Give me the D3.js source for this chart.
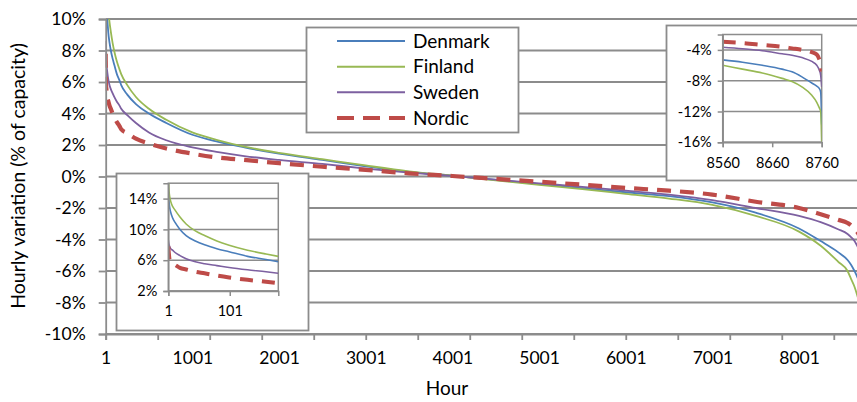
<!DOCTYPE html>
<html><head><meta charset="utf-8">
<script src="https://cdn.jsdelivr.net/npm/d3@7/dist/d3.min.js"></script>
<style>
html,body{margin:0;padding:0;background:#fff;}
svg{display:block;font-family:Lato, "Open Sans", sans-serif;}
</style></head>
<body>
<svg id="chart" width="857" height="402"></svg>
<script>
// ---------- DATA ----------
const hours   = [1,2,3,5,8,12,20,30,45,60,80,100,130,160,180,250,350,500,700,1000,1300,1600,2000,2500,3000,3500,4000,4500,5000,5500,6000,6500,7000,7500,8000,8250,8450,8560,8600,8640,8680,8700,8720,8740,8750,8755,8758,8759,8760];
const denmark = [14.9,13.8,13.0,12.2,11.5,10.9,10.0,9.2,8.5,8.0,7.5,7.1,6.5,6.1,5.8,5.2,4.6,4.0,3.4,2.65,2.2,1.85,1.45,1.05,0.65,0.3,0.05,-0.22,-0.48,-0.74,-1.0,-1.25,-1.65,-2.3,-3.3,-4.1,-4.8,-5.3,-5.6,-6.0,-6.5,-6.85,-7.5,-8.3,-8.7,-9.0,-9.5,-11.0,-13.7];
const finland = [17.0,15.2,14.4,13.6,13.0,12.5,11.6,10.7,9.8,9.2,8.5,7.95,7.3,6.8,6.5,5.8,5.05,4.3,3.6,2.8,2.3,1.9,1.5,1.1,0.7,0.33,0.05,-0.25,-0.53,-0.8,-1.1,-1.4,-1.8,-2.5,-3.5,-4.4,-5.4,-6.0,-6.5,-7.0,-7.7,-8.1,-8.8,-9.9,-10.8,-11.5,-12.0,-13.5,-15.9];
const sweden  = [8.6,8.1,7.8,7.5,7.3,7.0,6.6,6.2,5.8,5.55,5.3,5.05,4.75,4.5,4.3,3.9,3.4,2.8,2.3,1.85,1.55,1.3,1.05,0.8,0.5,0.25,0.04,-0.2,-0.43,-0.66,-0.9,-1.15,-1.5,-2.0,-2.5,-2.9,-3.35,-3.65,-3.85,-4.1,-4.5,-4.7,-5.0,-5.5,-6.0,-6.6,-7.3,-8.0,-8.8];
const nordic  = [7.8,6.8,6.1,5.8,5.6,5.4,5.0,4.8,4.5,4.3,4.0,3.75,3.45,3.2,3.0,2.75,2.4,2.1,1.78,1.45,1.2,1.05,0.85,0.62,0.42,0.2,0.03,-0.15,-0.33,-0.52,-0.72,-0.9,-1.15,-1.6,-2.0,-2.4,-2.75,-2.95,-3.1,-3.35,-3.6,-3.8,-4.0,-4.3,-4.6,-5.2,-5.8,-6.3,-6.8];

const seriesNames = ["Denmark","Finland","Sweden","Nordic"];
const seriesValues = [denmark, finland, sweden, nordic];

const yTicksMain = [-10,-8,-6,-4,-2,0,2,4,6,8,10];
const xLabelsMain = [1,1001,2001,3001,4001,5001,6001,7001,8001];
const xTickStep = 600;

const inset1XTicks = [8560,8660,8760];
const inset1YTicks = [-16,-12,-8,-4];
const inset2XTicks = [1,101];
const inset2YTicks = [2,6,10,14];

// ---------- STYLE ----------
const colors = {Denmark:"#4a7ebb", Finland:"#98b954", Sweden:"#7d60a0", Nordic:"#be4b48"};
const widths = {Denmark:1.8, Finland:1.8, Sweden:1.8, Nordic:4.2};
const dashes = {Denmark:null, Finland:null, Sweden:null, Nordic:"14,9"};
const gridColor = "#8c8c8c";

const series = seriesNames.map((n,i)=>({name:n, pts: hours.map((h,j)=>({h, v: seriesValues[i][j]}))}));

const svg = d3.select("#chart");

// ---------- MAIN CHART ----------
const x = d3.scaleLinear().domain([1,8760]).range([105.7, 864.9]);
const y = d3.scaleLinear().domain([-10,10]).range([334, 19]);

svg.append("defs").append("clipPath").attr("id","clipMain")
  .append("rect").attr("x",x(1)).attr("y",y(10)).attr("width",x(8760)-x(1)).attr("height",y(-10)-y(10));

// gridlines
svg.append("g").selectAll("line").data(yTicksMain).join("line")
  .attr("x1",x(1)).attr("x2",x(8760)).attr("y1",d=>y(d)).attr("y2",d=>y(d))
  .attr("stroke",gridColor).attr("stroke-width",1.8);

// lines
const lineMain = d3.line().x(d=>x(d.h)).y(d=>y(d.v)).curve(d3.curveMonotoneX);
const gl = svg.append("g").attr("clip-path","url(#clipMain)");
series.forEach(s=>{
  gl.append("path").attr("d",lineMain(s.pts)).attr("fill","none")
    .attr("stroke",colors[s.name]).attr("stroke-width",widths[s.name])
    .attr("stroke-dasharray",dashes[s.name]);
});

// y axis
const yAx = svg.append("g").attr("transform",`translate(${x(1)},0)`)
  .call(d3.axisLeft(y).tickValues(yTicksMain).tickSize(7).tickPadding(13).tickFormat(d=>d+"%"));
yAx.select(".domain").attr("stroke",gridColor).attr("stroke-width",1.8);
yAx.selectAll(".tick line").attr("stroke",gridColor).attr("stroke-width",1.8);
yAx.selectAll("text").attr("font-size",17.5).attr("fill","#000").attr("font-family","Lato");

// x axis
const xTickHours = d3.range(1, 8761, xTickStep);
const xAx = svg.append("g").attr("transform",`translate(0,${y(-10)})`)
  .call(d3.axisBottom(x).tickValues(xTickHours).tickSize(6).tickFormat(""));
xAx.select(".domain").attr("stroke",gridColor).attr("stroke-width",1.8);
xAx.selectAll(".tick line").attr("stroke",gridColor).attr("stroke-width",1.8);
const xLab = svg.append("g").attr("transform",`translate(0,${y(-10)})`)
  .call(d3.axisBottom(x).tickValues(xLabelsMain).tickSize(0).tickPadding(18).tickFormat(d=>String(d)));
xLab.select(".domain").remove();
xLab.selectAll("text").attr("font-size",17.5).attr("fill","#000").attr("font-family","Lato");

// axis titles
svg.append("text").attr("x",447).attr("y",395).attr("text-anchor","middle")
  .attr("font-size",19).attr("fill","#000").text("Hour");
svg.append("text").attr("transform","translate(25,176) rotate(-90)").attr("text-anchor","middle")
  .attr("font-size",19.5).attr("fill","#000").text("Hourly variation (% of capacity)");

// ---------- LEGEND ----------
const lg = svg.append("g");
lg.append("rect").attr("x",306.5).attr("y",27.5).attr("width",212).attr("height",105)
  .attr("fill","#fff").attr("stroke",gridColor).attr("stroke-width",1.8);
const legY = d3.scalePoint().domain(seriesNames).range([41,118]);
seriesNames.forEach(n=>{
  lg.append("line").attr("x1",337).attr("x2",405).attr("y1",legY(n)).attr("y2",legY(n))
    .attr("stroke",colors[n]).attr("stroke-width",n==="Nordic"?4.2:2)
    .attr("stroke-dasharray",n==="Nordic"?"17,9":null);
  lg.append("text").attr("x",413).attr("y",legY(n)).attr("dy","0.35em")
    .attr("font-size",19).attr("fill","#000").text(n);
});

// ---------- INSETS ----------
function drawInset(cfg){
  const g = svg.append("g");
  g.append("rect").attr("x",cfg.box[0]).attr("y",cfg.box[1]).attr("width",cfg.box[2]).attr("height",cfg.box[3])
    .attr("fill","#fff").attr("stroke",gridColor).attr("stroke-width",1.8);
  const xi = d3.scaleLinear().domain(cfg.xd).range(cfg.xr);
  const yi = d3.scaleLinear().domain(cfg.yd).range(cfg.yr);
  const id = "clip"+cfg.id;
  svg.select("defs").append("clipPath").attr("id",id).append("rect")
    .attr("x",cfg.xr[0]).attr("y",cfg.yr[1]).attr("width",cfg.xr[1]-cfg.xr[0]).attr("height",cfg.yr[0]-cfg.yr[1]);
  g.append("rect").attr("x",cfg.xr[0]).attr("y",cfg.yr[1]).attr("width",cfg.xr[1]-cfg.xr[0]).attr("height",cfg.yr[0]-cfg.yr[1])
    .attr("fill","none").attr("stroke",gridColor).attr("stroke-width",1.5);
  g.append("g").selectAll("line").data(cfg.yt).join("line")
    .attr("x1",cfg.xr[0]).attr("x2",cfg.xr[1]).attr("y1",d=>yi(d)).attr("y2",d=>yi(d))
    .attr("stroke",gridColor).attr("stroke-width",1.5);
  const li = d3.line().x(d=>xi(d.h)).y(d=>yi(d.v)).curve(d3.curveMonotoneX);
  const gc = g.append("g").attr("clip-path",`url(#${id})`);
  series.forEach(s=>{
    const pts = s.pts.filter(p=>p.h>=cfg.xd[0] && p.h<=cfg.xd[1]);
    gc.append("path").attr("d",li(pts)).attr("fill","none")
      .attr("stroke",colors[s.name]).attr("stroke-width",s.name==="Nordic"?4:1.6)
      .attr("stroke-dasharray",s.name==="Nordic"?"13,9":null);
  });
  const ya = g.append("g").attr("transform",`translate(${cfg.xr[0]},0)`)
    .call(d3.axisLeft(yi).tickValues(cfg.yt).tickSize(5).tickPadding(6).tickFormat(d=>d+"%"));
  ya.select(".domain").attr("stroke",gridColor).attr("stroke-width",1.5);
  ya.selectAll(".tick line").attr("stroke",gridColor).attr("stroke-width",1.5);
  ya.selectAll("text").attr("font-size",14.5).attr("fill","#000").attr("font-family","Lato");
  const xa = g.append("g").attr("transform",`translate(0,${cfg.yr[0]})`)
    .call(d3.axisBottom(xi).tickValues(cfg.xt).tickSize(5).tickPadding(10).tickFormat(d=>String(d)));
  xa.select(".domain").attr("stroke",gridColor).attr("stroke-width",1.5);
  xa.selectAll(".tick line").attr("stroke",gridColor).attr("stroke-width",1.5);
  xa.selectAll("text").attr("font-size",14.5).attr("fill","#000").attr("font-family","Lato");
}

drawInset({id:"i1", box:[666.5,25.5,210,155], xd:[8560,8760], xr:[722.7,821.7], yd:[-16,-2], yr:[142.3,34.5], xt:inset1XTicks, yt:inset1YTicks});
drawInset({id:"i2", box:[116.5,173.5,192,157], xd:[1,180], xr:[168.3,278.3], yd:[2,16], yr:[291,183.2], xt:inset2XTicks, yt:inset2YTicks});
</script>
</body></html>
